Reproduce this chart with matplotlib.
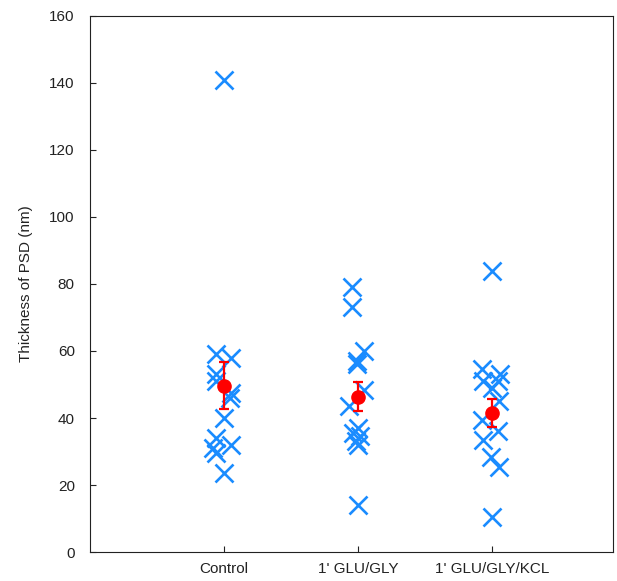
import matplotlib
matplotlib.use("Agg")
import numpy as np
from matplotlib import pyplot as plt

plt.rcParams['font.family'] = ['Liberation Sans', 'DejaVu Sans']

# groups on the x axis
groups = ["Control", "1' GLU/GLY", "1' GLU/GLY/KCL"]

# individual measurements (nm) and their horizontal jitter (in category units)
control = [141, 59, 58, 53, 51, 47.5, 46, 40, 34, 32, 31, 29.5, 23.5]
control_jit = [0, -0.06, 0.05, -0.06, -0.06, 0.05, 0.04, 0, -0.06, 0.05, -0.08, -0.06, 0]

glugly = [79, 73, 60, 57, 56, 48.5, 43.5, 37, 35.5, 34.5, 33, 32, 14]
glugly_jit = [-0.05, -0.05, 0.04, -0.01, -0.01, 0.04, -0.07, 0, -0.04, 0.01, -0.02, 0, 0]

kcl = [84, 54.5, 53, 51, 51, 49, 45, 39.5, 36, 33.5, 28.5, 25.5, 10.5]
kcl_jit = [0, -0.08, 0.06, -0.07, 0.04, 0, 0.05, -0.08, 0.04, -0.07, -0.01, 0.05, 0]

# mean +/- error bars
means = [49.7, 46.4, 41.5]
errs = [7.1, 4.3, 4.2]

values = [control, glugly, kcl]
jitters = [control_jit, glugly_jit, kcl_jit]

fig = plt.figure(figsize=(6.17, 5.81), dpi=100)
ax = fig.add_axes([0.146, 0.0499, 0.8475, 0.9226])

blue = "#1a8cff"
red = "#ff0000"

for i, (vals, jit) in enumerate(zip(values, jitters)):
    x = i + 1 + np.array(jit)
    ax.plot(x, vals, linestyle="none", marker="x", markersize=13,
            markeredgewidth=1.9, color=blue, zorder=2)

xs = np.arange(1, len(groups) + 1)
ax.errorbar(xs, means, yerr=errs, fmt="o", color=red, markersize=9.5,
            elinewidth=1.6, capsize=3.5, capthick=1.6, zorder=3)

ax.set_xlim(0, 3.9)
ax.set_ylim(0, 160)
ax.set_yticks(np.arange(0, 161, 20))
ax.set_xticks(xs)
ax.set_xticklabels(groups)

ax.tick_params(axis="both", direction="in", length=4.5, width=0.8,
               labelsize=11, colors="#222222")
ax.tick_params(axis="y", pad=11)
ax.tick_params(axis="x", pad=7)
ax.tick_params(top=False, right=False)

for sp in ax.spines.values():
    sp.set_linewidth(0.8)
    sp.set_color("#222222")

ax.set_ylabel("Thickness of PSD (nm)", fontsize=11, color="#222222", labelpad=12)

fig.savefig("out.png", dpi=100)
